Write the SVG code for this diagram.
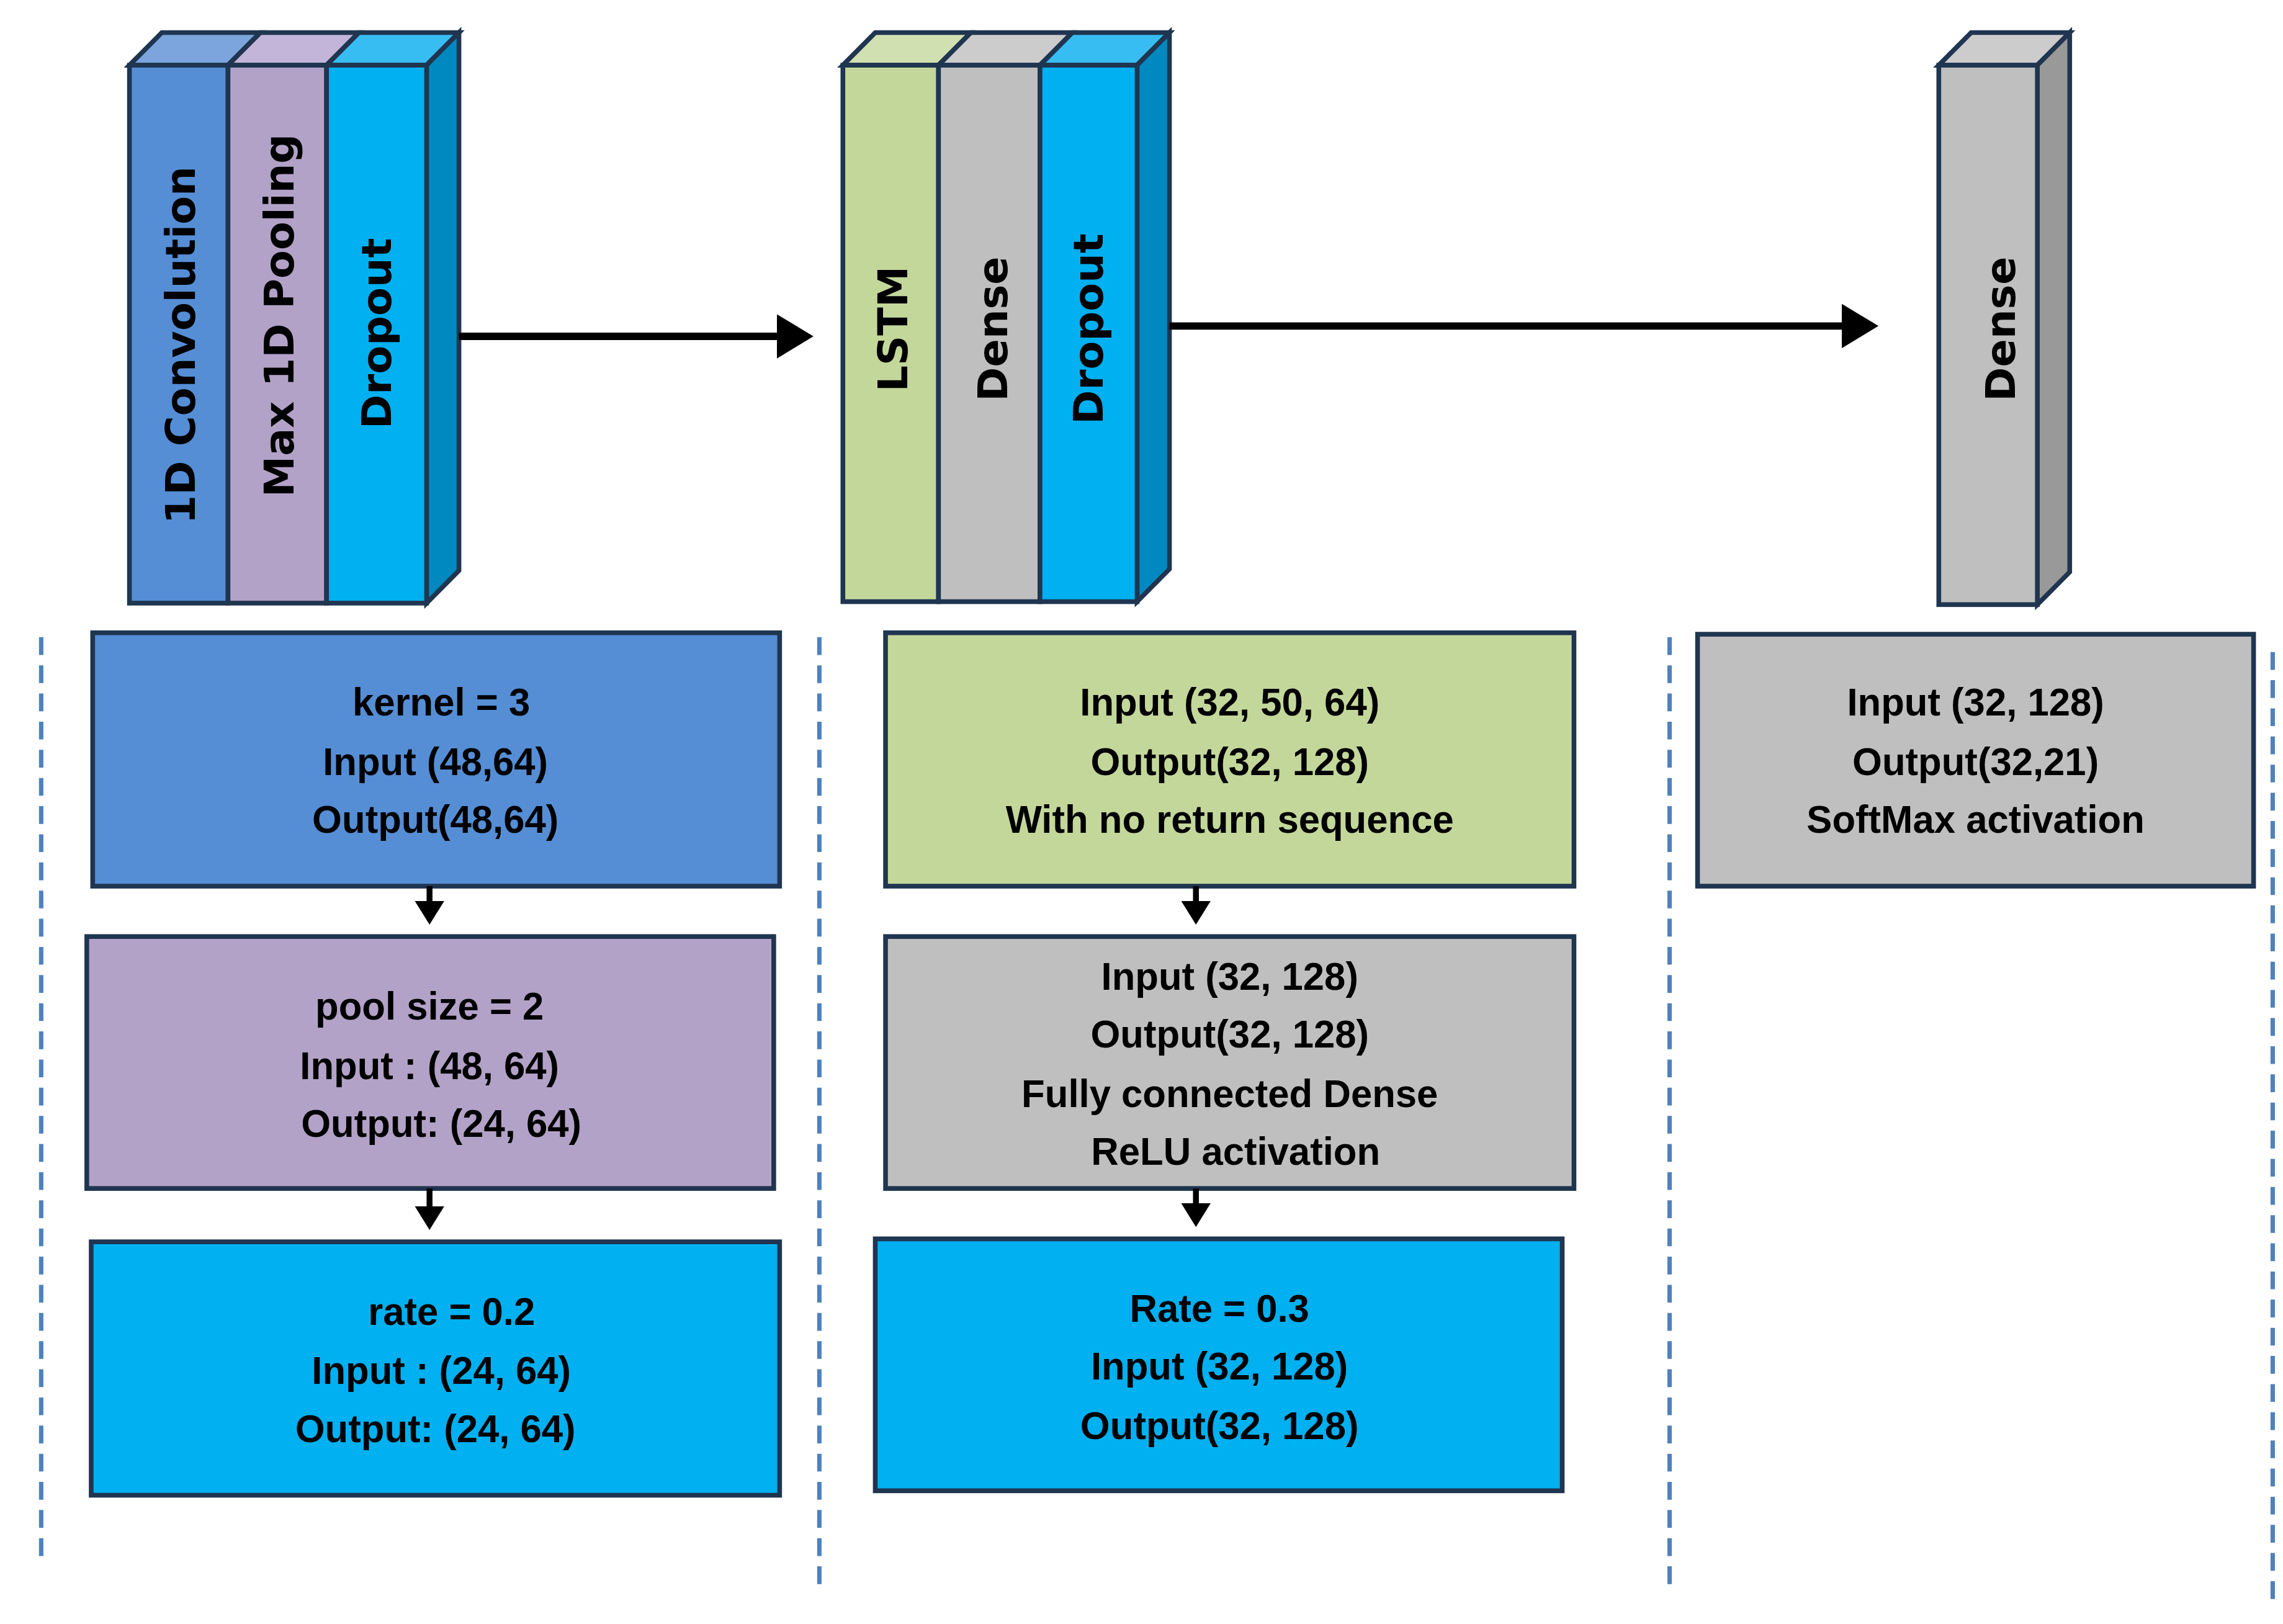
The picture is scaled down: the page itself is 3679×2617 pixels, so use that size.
<svg xmlns="http://www.w3.org/2000/svg" width="3679" height="2617" viewBox="0 0 3679 2617">
<defs>
<style>
.s{stroke:#1F3550;stroke-width:3.2;stroke-linejoin:miter}
.v{font-family:"DejaVu Sans",sans-serif;font-weight:bold;font-size:28px;fill:#000;text-anchor:middle;dominant-baseline:central}
.t{font-family:"Liberation Sans",Arial,sans-serif;font-weight:bold;font-size:26px;fill:#000;text-anchor:middle;dominant-baseline:central}
.d{stroke:#4F81BD;stroke-width:3;stroke-dasharray:12,7;fill:none}
.a{stroke:#000;stroke-width:5;fill:none}
.a2{stroke:#000;stroke-width:4;fill:none}
</style>
<marker id="ah" markerWidth="6" markerHeight="6" refX="4" refY="3" orient="auto" markerUnits="strokeWidth"><path d="M0,0 L5,3 L0,6 Z" fill="#000"/></marker>
<marker id="ah2" markerWidth="5" markerHeight="5" refX="3" refY="2.5" orient="auto" markerUnits="strokeWidth"><path d="M0,0 L4,2.5 L0,5 Z" fill="#000"/></marker>
</defs>
<rect width="3679" height="2617" fill="#fff"/>
<g transform="scale(2.3705,2.388)">
<g id="block1">
<polygon class="s" fill="#7BA5DC" points="88,44 110,22 177,22 155,44"/>
<polygon class="s" fill="#C3B5D9" points="155,44 177,22 244,22 222,44"/>
<polygon class="s" fill="#38BDF3" points="222,44 244,22 312,22 290,44"/>
<polygon class="s" fill="#0089C0" points="290,44 312,22 312,385 290,407"/>
<rect class="s" fill="#558ED5" x="88" y="44" width="67" height="363"/>
<rect class="s" fill="#B3A2C7" x="155" y="44" width="67" height="363"/>
<rect class="s" fill="#00B0F0" x="222" y="44" width="68" height="363"/>
<text class="v" transform="translate(123,233) rotate(-90)">1D Convolution</text>
<text class="v" transform="translate(190,213) rotate(-90)">Max 1D Pooling</text>
<text class="v" transform="translate(256,225) rotate(-90)">Dropout</text>
</g>
<g id="block2">
<polygon class="s" fill="#D0E0B0" points="573,44 595,22 660,22 638,44"/>
<polygon class="s" fill="#CCCCCC" points="638,44 660,22 729,22 707,44"/>
<polygon class="s" fill="#38BDF3" points="707,44 729,22 795,22 773,44"/>
<polygon class="s" fill="#0089C0" points="773,44 795,22 795,384 773,406"/>
<rect class="s" fill="#C4D79B" x="573" y="44" width="65" height="362"/>
<rect class="s" fill="#BFBFBF" x="638" y="44" width="69" height="362"/>
<rect class="s" fill="#00B0F0" x="707" y="44" width="66" height="362"/>
<text class="v" transform="translate(607,222) rotate(-90)">LSTM</text>
<text class="v" transform="translate(675,222) rotate(-90)">Dense</text>
<text class="v" transform="translate(740,222) rotate(-90)">Dropout</text>
</g>
<g id="block3">
<polygon class="s" fill="#CCCCCC" points="1318,44 1340,22 1407,22 1385,44"/>
<polygon class="s" fill="#999999" points="1385,44 1407,22 1407,386 1385,408"/>
<rect class="s" fill="#BFBFBF" x="1318" y="44" width="67" height="364"/>
<text class="v" transform="translate(1360,222) rotate(-90)">Dense</text>
</g>
<g id="conv_box">
<rect class="s" fill="#558ED5" x="63" y="427" width="467" height="171"/>
<text class="t" x="300" y="474">kernel = 3</text>
<text class="t" x="296" y="514">Input (48,64)</text>
<text class="t" x="296" y="553">Output(48,64)</text>
</g>
<g id="pool_box">
<rect class="s" fill="#B3A2C7" x="59" y="632" width="467" height="170"/>
<text class="t" x="292" y="679">pool size = 2</text>
<text class="t" x="292" y="719">Input : (48, 64)</text>
<text class="t" x="300" y="758">Output: (24, 64)</text>
</g>
<g id="drop1_box">
<rect class="s" fill="#00B0F0" x="62" y="838" width="468" height="171"/>
<text class="t" x="307" y="885">rate = 0.2</text>
<text class="t" x="300" y="925">Input : (24, 64)</text>
<text class="t" x="296" y="964">Output: (24, 64)</text>
</g>
<g id="lstm_box">
<rect class="s" fill="#C4D79B" x="602" y="427" width="468" height="171"/>
<text class="t" x="836" y="474">Input (32, 50, 64)</text>
<text class="t" x="836" y="514">Output(32, 128)</text>
<text class="t" x="836" y="553">With no return sequence</text>
</g>
<g id="dense_box">
<rect class="s" fill="#BFBFBF" x="602" y="632" width="468" height="170"/>
<text class="t" x="836" y="659">Input (32, 128)</text>
<text class="t" x="836" y="698">Output(32, 128)</text>
<text class="t" x="836" y="738">Fully connected Dense</text>
<text class="t" x="840" y="777">ReLU activation</text>
</g>
<g id="drop2_box">
<rect class="s" fill="#00B0F0" x="595" y="836" width="467" height="170"/>
<text class="t" x="829" y="883">Rate = 0.3</text>
<text class="t" x="829" y="922">Input (32, 128)</text>
<text class="t" x="829" y="962">Output(32, 128)</text>
</g>
<g id="dense3_box">
<rect class="s" fill="#BFBFBF" x="1154" y="428" width="378" height="170"/>
<text class="t" x="1343" y="474">Input (32, 128)</text>
<text class="t" x="1343" y="514">Output(32,21)</text>
<text class="t" x="1343" y="553">SoftMax activation</text>
</g>
<g id="connectors">
<line class="a" x1="312" y1="227" x2="548" y2="227" marker-end="url(#ah)"/>
<line class="a" x1="795" y1="220" x2="1272" y2="220" marker-end="url(#ah)"/>
<line class="a2" x1="292" y1="598" x2="292" y2="620" marker-end="url(#ah2)"/>
<line class="a2" x1="292" y1="802" x2="292" y2="826" marker-end="url(#ah2)"/>
<line class="a2" x1="813" y1="598" x2="813" y2="620" marker-end="url(#ah2)"/>
<line class="a2" x1="813" y1="802" x2="813" y2="824" marker-end="url(#ah2)"/>
<line class="d" x1="28" y1="430" x2="28" y2="1055"/>
<line class="d" x1="557" y1="430" x2="557" y2="1070"/>
<line class="d" x1="1135" y1="430" x2="1135" y2="1070"/>
<line class="d" x1="1545" y1="440" x2="1545" y2="1085"/>
</g>
</g>
</svg>
